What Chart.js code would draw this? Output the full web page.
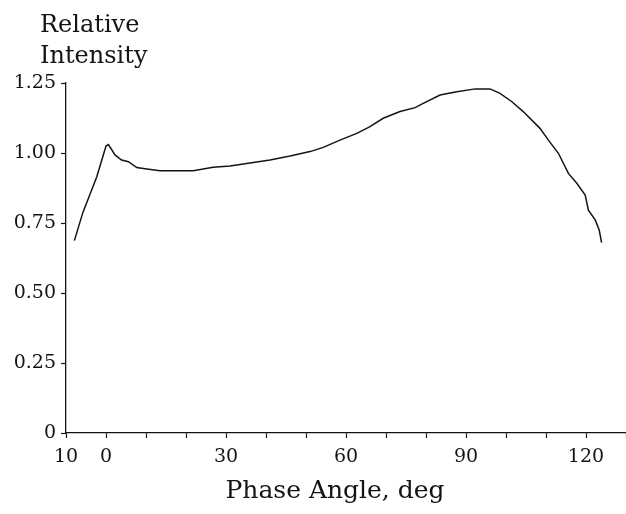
<!DOCTYPE html>
<html>
<head>
<meta charset="utf-8">
<script src="https://cdn.jsdelivr.net/npm/chart.js@4/dist/chart.umd.min.js"></script>
<style>
  html, body { margin: 0; padding: 0; background: #fff; }
  #wrap { width: 626px; height: 514px; position: relative; }
</style>
</head>
<body>
<div id="wrap"><canvas id="c" width="626" height="514"></canvas></div>
<script>
// ---- data ----
const phaseAngle = [-7.9, -5.8, -2.3, 0, 0.6, 2.25, 3.9, 5.6, 7.7, 10.2, 13.5, 21.8, 26.8, 31, 36, 41, 46, 51, 54.3, 58.5, 62.7, 66, 69.3, 73.5, 77.3, 79.3, 83.5, 87.7, 92.3, 96, 98.5, 101.4, 104.3, 108.5, 110.6, 113.1, 115.6, 117.7, 119.8, 120.6, 122.3, 123.3, 123.9];
const relIntensity = [0.687, 0.787, 0.915, 1.025, 1.030, 0.993, 0.975, 0.969, 0.948, 0.943, 0.937, 0.937, 0.949, 0.954, 0.964, 0.975, 0.989, 1.005, 1.020, 1.046, 1.070, 1.094, 1.124, 1.148, 1.162, 1.177, 1.207, 1.219, 1.229, 1.229, 1.213, 1.184, 1.148, 1.088, 1.046, 0.999, 0.927, 0.892, 0.850, 0.796, 0.761, 0.725, 0.680];

const xTickValues = [-10, 0, 30, 60, 90, 120];
const xTickTexts  = ['10', '0', '30', '60', '90', '120'];
const yTickValues = [0, 0.25, 0.5, 0.75, 1.0, 1.25];
const yTickTexts  = ['0', '0.25', '0.50', '0.75', '1.00', '1.25'];

const yTitleLines = ['Relative', 'Intensity'];
const xTitle = 'Phase Angle, deg';

const FONT = '"DejaVu Serif", "Liberation Serif", serif';
const INK = '#141414';

const points = phaseAngle.map((a, i) => ({ x: a, y: relIntensity[i] }));

function labelFor(values, texts, v) {
  const idx = values.findIndex(t => Math.abs(t - v) < 1e-6);
  return idx >= 0 ? texts[idx] : '';
}

const titlePlugin = {
  id: 'titles',
  afterDraw(chart) {
    const ctx = chart.ctx;
    ctx.save();
    ctx.fillStyle = INK;
    ctx.textBaseline = 'alphabetic';
    ctx.textAlign = 'left';
    ctx.font = '24px ' + FONT;
    ctx.fillText(yTitleLines[0], 40, 32);
    ctx.fillText(yTitleLines[1], 40, 63);
    ctx.textAlign = 'center';
    ctx.font = '25px ' + FONT;
    ctx.fillText(xTitle, 335, 498);
    ctx.restore();
  }
};

new Chart(document.getElementById('c'), {
  type: 'line',
  data: {
    datasets: [{
      data: points,
      borderColor: INK,
      borderWidth: 1.5,
      pointRadius: 0,
      tension: 0,
      fill: false
    }]
  },
  plugins: [titlePlugin],
  options: {
    responsive: false,
    animation: false,
    devicePixelRatio: 1,
    layout: { padding: { top: 83, left: 0, right: 0, bottom: 0 } },
    plugins: { legend: { display: false }, tooltip: { enabled: false }, title: { display: false } },
    scales: {
      x: {
        type: 'linear',
        min: -10, max: 130,
        afterFit(s) { s.height = 81; },
        border: { display: true, color: INK, width: 1.3 },
        grid: { drawOnChartArea: false, drawTicks: true, tickLength: 5, color: INK, tickWidth: 1.2 },
        ticks: {
          stepSize: 10, autoSkip: false, maxRotation: 0, padding: 0,
          color: INK, font: { family: FONT, size: 19, lineHeight: 2.0 },
          callback: v => labelFor(xTickValues, xTickTexts, v)
        }
      },
      y: {
        type: 'linear',
        min: 0, max: 1.25,
        afterFit(s) { s.width = 66; },
        border: { display: true, color: INK, width: 1.3 },
        grid: { drawOnChartArea: false, drawTicks: true, tickLength: 5, color: INK, tickWidth: 1.2 },
        ticks: {
          stepSize: 0.25, autoSkip: false, padding: 5,
          color: INK, font: { family: FONT, size: 19 },
          callback: v => labelFor(yTickValues, yTickTexts, v)
        }
      }
    }
  }
});
</script>
</body>
</html>
